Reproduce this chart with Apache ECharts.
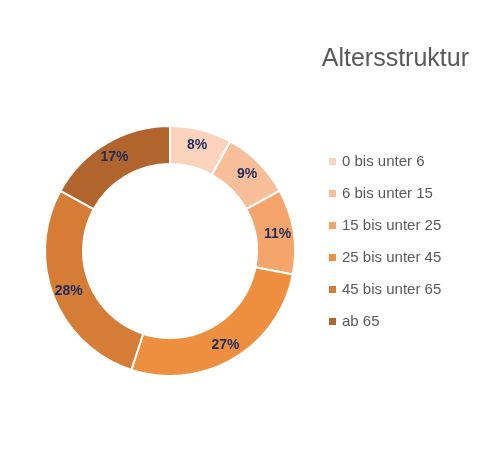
<!DOCTYPE html>
<html><head><meta charset="utf-8">
<script src="https://cdn.jsdelivr.net/npm/echarts@6/dist/echarts.min.js"></script>
<style>html,body{margin:0;padding:0;background:#fff}#c{width:498px;height:450px}</style>
</head><body><div id="c"></div>
<script>
const categories = ['0 bis unter 6','6 bis unter 15','15 bis unter 25','25 bis unter 45','45 bis unter 65','ab 65'];
const values = [8, 9, 11, 27, 28, 17];
const colors = ['#FBD3BD','#F8BE99','#F5A46C','#EE8F40','#D57D37','#B1652C'];
const chart = echarts.init(document.getElementById('c'));
chart.setOption({
  animation: false,
  color: colors,
  title: { text: 'Altersstruktur', right: 24, top: 42, textStyle: { fontFamily: 'Liberation Sans, Arial', fontSize: 25, fontWeight: 'normal', color: '#595959' } },
  legend: {
    orient: 'vertical', left: 322, top: 149, itemGap: 17, itemWidth: 9, itemHeight: 9, icon: 'rect',
    textStyle: { fontFamily: 'Liberation Sans, Arial', fontSize: 15, color: '#595959' },
    data: categories
  },
  series: [{
    type: 'pie', center: [170, 251], radius: [87, 125], startAngle: 90, clockwise: true,
    itemStyle: { borderColor: '#fff', borderWidth: 2 },
    label: { position: 'inside', formatter: '{c}%', fontFamily: 'Liberation Sans, Arial', fontSize: 14, fontWeight: 'bold', color: '#1F2B5C' },
    labelLine: { show: false },
    data: categories.map((n, i) => ({ name: n, value: values[i] }))
  }]
});
</script></body></html>
